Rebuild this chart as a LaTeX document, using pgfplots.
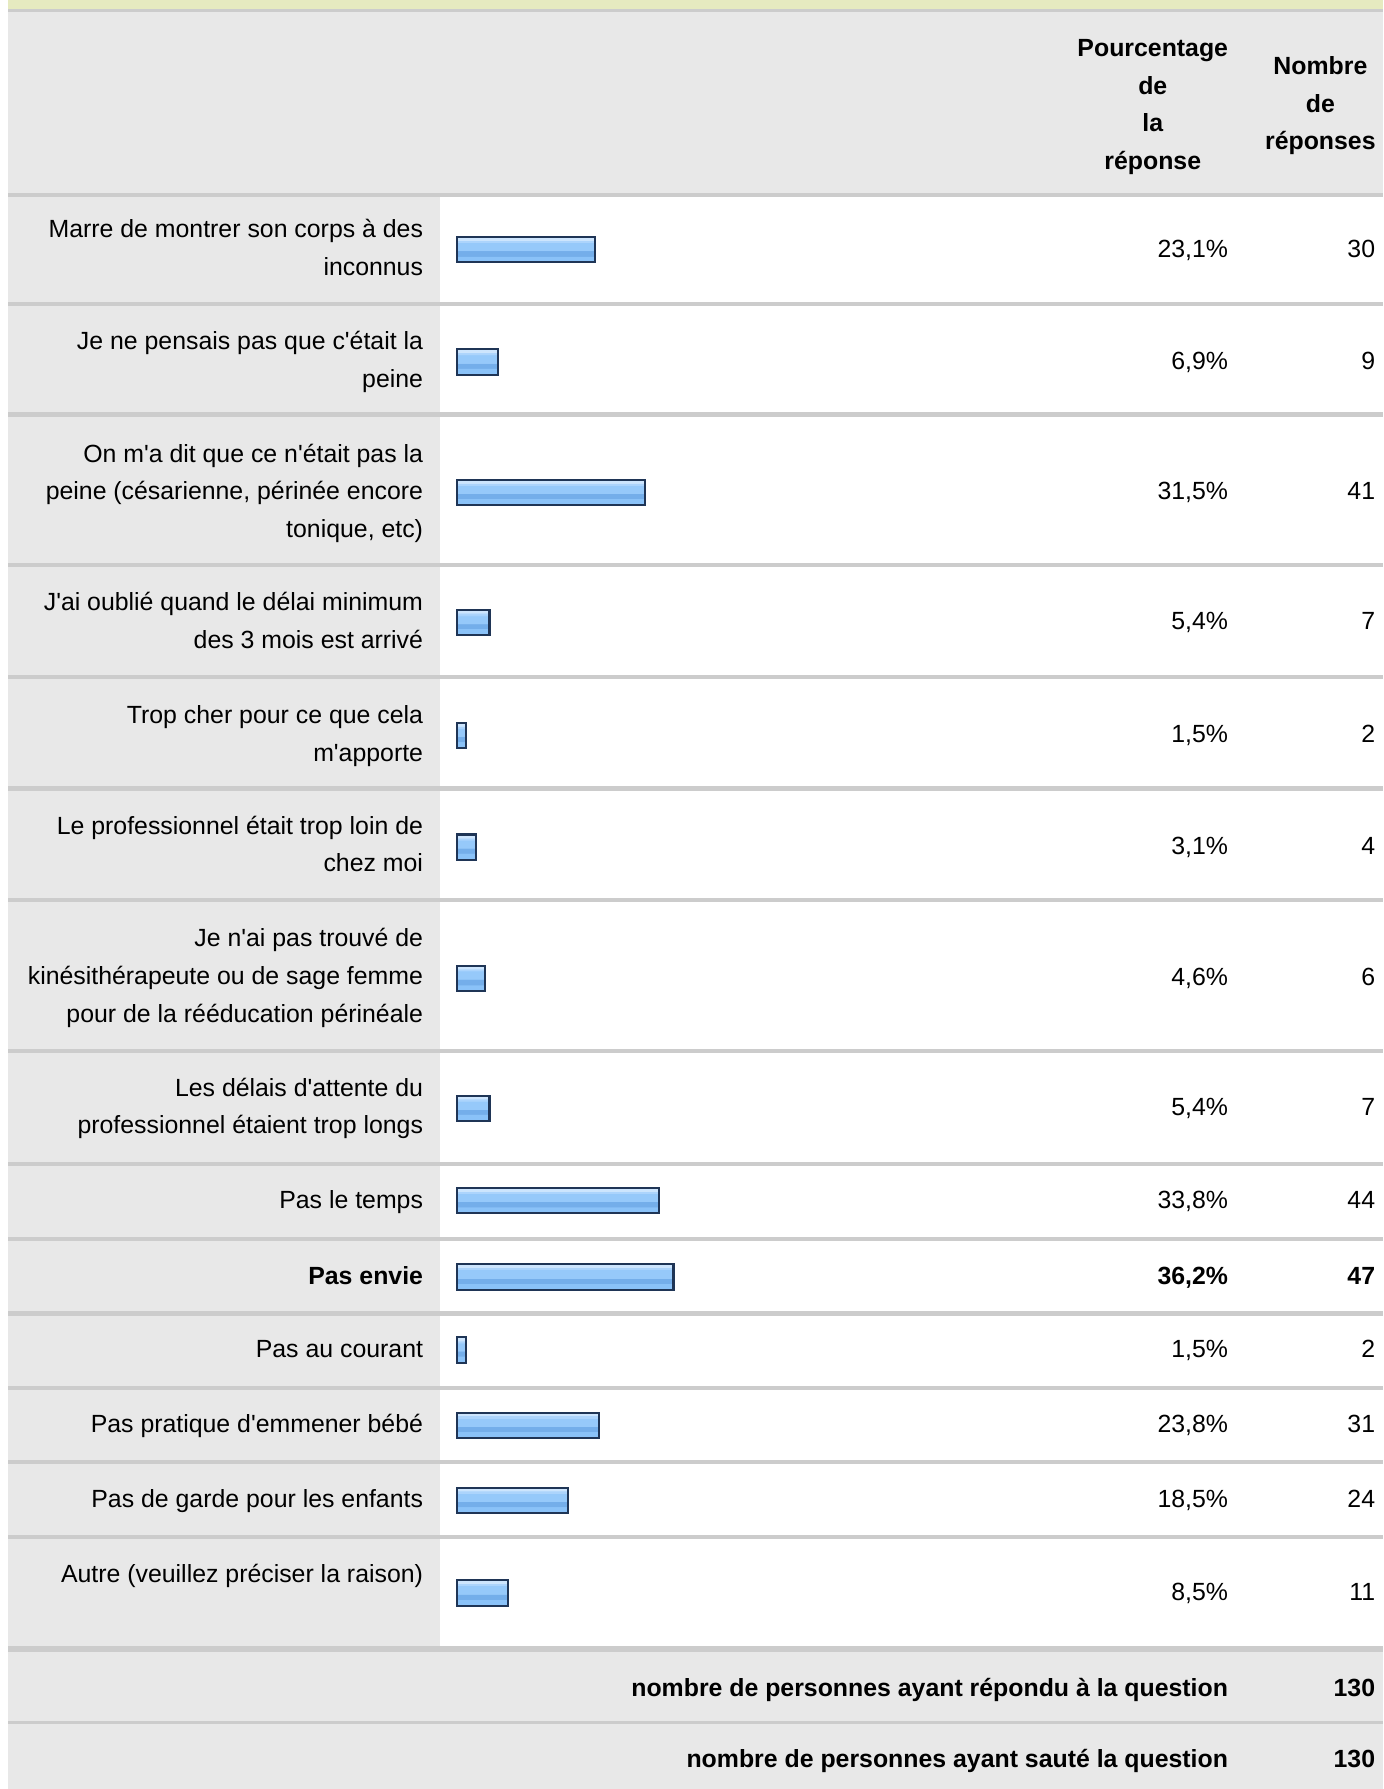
\documentclass[border=0pt]{standalone}
\usepackage{pgfplots}
\pgfplotsset{compat=1.18}
\usepackage{pgfplotstable}
\usepackage{fontspec}
\setmainfont{Liberation Sans}
\definecolor{topband}{HTML}{E6EAC0}
\definecolor{bggray}{HTML}{E8E8E8}
\definecolor{sepgray}{HTML}{CCCCCC}
\definecolor{barborder}{HTML}{1F3556}
\definecolor{bA}{HTML}{CDE5FD}
\definecolor{bB}{HTML}{ACD4FC}
\definecolor{bC}{HTML}{96C9FA}
\definecolor{bD}{HTML}{74AEEA}
\definecolor{bE}{HTML}{8AC2F8}
\pgfdeclareverticalshading{barshade}{100bp}{color(0bp)=(bE); color(37.5bp)=(bE); color(37.6bp)=(bD); color(47.5bp)=(bD); color(47.6bp)=(bC); color(64bp)=(bC); color(64.1bp)=(bB); color(68.7bp)=(bB); color(68.8bp)=(bA); color(100bp)=(bA)}
\newcommand\X[1]{\fpeval{(#1-401)/5.24}}
\newcommand\q{\textquotesingle}
\newcommand\tfont{\fontsize{10.9}{16.5}\selectfont}
\tikzset{t/.style={font=\tfont, inner sep=0pt, outer sep=0pt},
         tb/.style={font=\tfont\bfseries, inner sep=0pt, outer sep=0pt}}
\pgfplotstableread{
pct cnt yc
23.1 30 219
6.9 9 317.5
31.5 41 432
5.4 7 546
1.5 2 645
3.1 4 743
4.6 6 858
5.4 7 972
33.8 44 1053
36.2 47 1120
1.5 2 1184
23.8 31 1250
18.5 24 1316
8.5 11 1397
}\data
\newcommand\val[3]{%
  \node[t, anchor=base east] at (axis cs:\X{1077},#3) {#1};
  \node[t, anchor=base east] at (axis cs:\X{1206},#3) {#2};}
\begin{document}
\begin{tikzpicture}
\begin{axis}[
  scale only axis, width=606.5pt, height=784.5pt,
  xmin=-76.5267, xmax=154.9618, ymin=0, ymax=1569, y dir=reverse,
  hide axis, clip=false,
]
% backgrounds
\fill[white] (axis cs:\X{0},0) rectangle (axis cs:\X{1213},1569);
\fill[topband] (axis cs:\X{7},0) rectangle (axis cs:\X{1213},8.3);
\fill[sepgray] (axis cs:\X{7},8.3) rectangle (axis cs:\X{1213},10.5);
\fill[bggray] (axis cs:\X{7},10.5) rectangle (axis cs:\X{1213},169.5);
\fill[bggray] (axis cs:\X{7},169.5) rectangle (axis cs:\X{386},1446);
\fill[bggray] (axis cs:\X{7},1446) rectangle (axis cs:\X{1213},1569);
\pgfplotsinvokeforeach{171,266.5,363.5,495.5,593.5,691.5,789.5,921.5,1021,1086.5,1152,1217,1282,1348}{
  \fill[sepgray] (axis cs:\X{7},\fpeval{#1-1.8}) rectangle (axis cs:\X{1213},\fpeval{#1+1.8});
}
\fill[sepgray] (axis cs:\X{7},1443.5) rectangle (axis cs:\X{1213},1449);
\fill[sepgray] (axis cs:\X{7},1509.5) rectangle (axis cs:\X{1213},1511.8);
% bars, one plot per bar so that each bar gets its own shading
\pgfplotsinvokeforeach{0,...,13}{
  \addplot[xbar, bar width=22.3, draw=barborder, line width=0.9pt, shading=barshade,
    skip coords between index={0}{#1},
    skip coords between index={\the\numexpr#1+1\relax}{20}] table[x=pct, y=yc] {\data};
}
% header
\node[tb, anchor=base, align=center] at (axis cs:\X{1011},148.5) {Pourcentage\\de\\la\\réponse};
\node[tb, anchor=base, align=center] at (axis cs:\X{1158},131.5) {Nombre\\de\\réponses};
% labels (base anchor = baseline of last line)
\node[t, anchor=base east, align=right] at (axis cs:\X{371},241.5) {Marre de montrer son corps à des\\inconnus};
\node[t, anchor=base east, align=right] at (axis cs:\X{371},339.5) {Je ne pensais pas que c\q était la\\peine};
\node[t, anchor=base east, align=right] at (axis cs:\X{371},471.5) {On m\q a dit que ce n\q était pas la\\peine (césarienne, périnée encore\\tonique, etc)};
\node[t, anchor=base east, align=right] at (axis cs:\X{371},568.5) {J\q ai oublié quand le délai minimum\\des 3 mois est arrivé};
\node[t, anchor=base east, align=right] at (axis cs:\X{371},667.5) {Trop cher pour ce que cela\\m\q apporte};
\node[t, anchor=base east, align=right] at (axis cs:\X{371},764.5) {Le professionnel était trop loin de\\chez moi};
\node[t, anchor=base east, align=right] at (axis cs:\X{371},896.5) {Je n\q ai pas trouvé de\\kinésithérapeute ou de sage femme\\pour de la rééducation périnéale};
\node[t, anchor=base east, align=right] at (axis cs:\X{371},994.5) {Les délais d\q attente du\\professionnel étaient trop longs};
\node[t, anchor=base east] at (axis cs:\X{371},1059.5) {Pas le temps};
\node[tb, anchor=base east] at (axis cs:\X{371},1126.5) {Pas envie};
\node[t, anchor=base east] at (axis cs:\X{371},1190.5) {Pas au courant};
\node[t, anchor=base east] at (axis cs:\X{371},1256.5) {Pas pratique d\q emmener bébé};
\node[t, anchor=base east] at (axis cs:\X{371},1322) {Pas de garde pour les enfants};
\node[t, anchor=base east] at (axis cs:\X{371},1387.5) {Autre (veuillez préciser la raison)};
% percentages and counts
\val{23,1\%}{30}{225.5}
\val{6,9\%}{9}{324}
\val{31,5\%}{41}{438.5}
\val{5,4\%}{7}{552.5}
\val{1,5\%}{2}{651.5}
\val{3,1\%}{4}{749.5}
\val{4,6\%}{6}{864.5}
\val{5,4\%}{7}{978.5}
\val{33,8\%}{44}{1059.5}
\val{1,5\%}{2}{1190.5}
\val{23,8\%}{31}{1256.5}
\val{18,5\%}{24}{1322.5}
\val{8,5\%}{11}{1403.5}
\node[tb, anchor=base east] at (axis cs:\X{1077},1126.5) {36,2\%};
\node[tb, anchor=base east] at (axis cs:\X{1206},1126.5) {47};
% footer
\node[tb, anchor=base east] at (axis cs:\X{1077},1487.5) {nombre de personnes ayant répondu à la question};
\node[tb, anchor=base east] at (axis cs:\X{1206},1487.5) {130};
\node[tb, anchor=base east] at (axis cs:\X{1077},1550.5) {nombre de personnes ayant sauté la question};
\node[tb, anchor=base east] at (axis cs:\X{1206},1550.5) {130};
\end{axis}
\end{tikzpicture}
\end{document}
